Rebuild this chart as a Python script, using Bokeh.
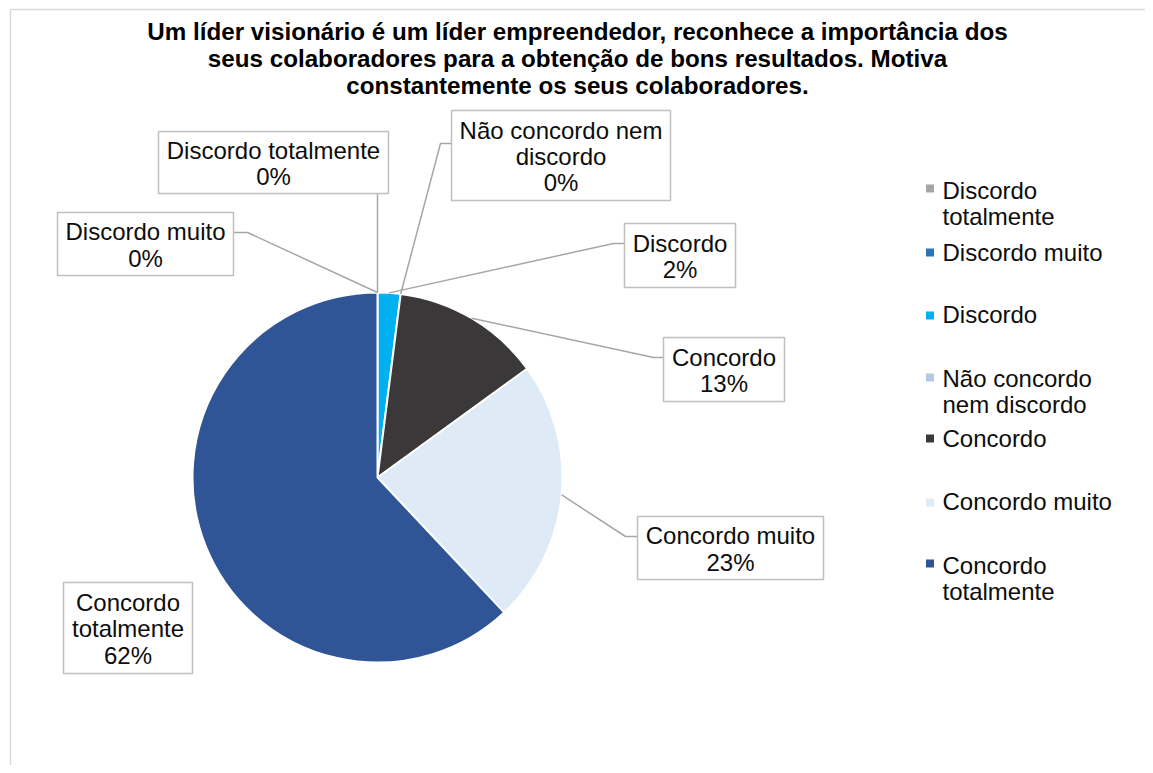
import numpy as np
from bokeh.plotting import figure
from bokeh.models import Range1d
from bokeh.embed import file_html
from bokeh.resources import INLINE
from bokeh.core.properties import value

# ---------------- data ----------------
categories = ["Discordo totalmente", "Discordo muito", "Discordo",
              "Não concordo nem discordo", "Concordo", "Concordo muito",
              "Concordo totalmente"]
values = [0, 0, 2, 0, 13, 23, 62]
colors = ["#A5A5A5", "#2E75B6", "#00B0F0", "#B4C7E7", "#3A3838", "#DEEBF7", "#2F5597"]
label_names = ["Discordo totalmente", "Discordo muito", "Discordo",
               "Não concordo nem\ndiscordo", "Concordo", "Concordo muito",
               "Concordo\ntotalmente"]
legend_names = ["Discordo\ntotalmente", "Discordo muito", "Discordo",
                "Não concordo\nnem discordo", "Concordo", "Concordo muito",
                "Concordo\ntotalmente"]
title = ("Um líder visionário é um líder empreendedor, reconhece a importância dos\n"
         "seus colaboradores para a obtenção de bons resultados. Motiva\n"
         "constantemente os seus colaboradores.")

# ---------------- layout (page pixels) ----------------
W, H = 1145, 765
OFF = 0
def X(px):
    return px - OFF
def Y(py):
    return H - (py - OFF)

FONT = value("Liberation Sans")
CX, CY, R = 377, 477, 185
# label boxes: left, top, right, bottom
boxes = [(158, 131, 388, 193), (57, 212, 233, 275), (624, 223, 735, 287),
         (451, 110, 670, 200), (663, 337, 784, 401), (637, 516, 823, 579),
         (63, 582, 192, 673)]
# leader start and elbow (None = no leader / straight)
leader_start = [(377, 193), (233, 232), (624, 243), (451, 143), (663, 357), (637, 536), None]
leader_elbow = [None, (247, 232), (613, 243), (440, 143), (653, 357), (625, 536), None]
legend_line_y = [190, 252, 314, 378, 438, 501, 565]
legend_marker_y = [188, 252, 315, 377, 438, 502, 563]
LINE_PX = 26

p = figure(width=W, height=H, x_range=Range1d(0, W), y_range=Range1d(0, H),
           output_backend="svg", toolbar_location=None, min_border=0)
p.axis.visible = False
p.grid.visible = False
p.outline_line_color = None
p.background_fill_color = "white"
p.border_fill_color = "white"

# chart frame (only left/top visible in reference)
p.quad(left=[X(10)], right=[W + 50], top=[Y(9)], bottom=[-50],
       fill_color=None, line_color="#D9D9D9", line_width=1.5)

# title
p.text(x=[X(577)], y=[Y(57.5)], text=[title], text_align="center", text_baseline="middle",
       text_font=FONT, text_font_size="24.2px", text_font_style="bold",
       text_line_height=1.0, text_color="#000000")

# pie
vals = np.array(values, dtype=float)
cum = np.concatenate([[0], np.cumsum(vals)]) / vals.sum()
starts = np.pi / 2 - 2 * np.pi * cum[:-1]
ends = np.pi / 2 - 2 * np.pi * cum[1:]
idx = [i for i, v in enumerate(values) if v > 0]
p.wedge(x=[X(CX)] * len(idx), y=[Y(CY)] * len(idx), radius=R,
        start_angle=[starts[i] for i in idx], end_angle=[ends[i] for i in idx],
        direction="clock", fill_color=[colors[i] for i in idx],
        line_color="white", line_width=2)

# leader lines
xs, ys = [], []
for i, v in enumerate(values):
    if leader_start[i] is None:
        continue
    mid = (cum[i] + cum[i + 1]) / 2 * 2 * np.pi
    px = CX + R * np.sin(mid)
    py = CY - R * np.cos(mid)
    pts = [leader_start[i]]
    if leader_elbow[i] is not None:
        pts.append(leader_elbow[i])
    pts.append((px, py))
    xs.append([X(a) for a, b in pts])
    ys.append([Y(b) for a, b in pts])
p.multi_line(xs=xs, ys=ys, line_color="#A6A6A6", line_width=1.5)

# label boxes
p.quad(left=[X(b[0]) for b in boxes], right=[X(b[2]) for b in boxes],
       top=[Y(b[1]) for b in boxes], bottom=[Y(b[3]) for b in boxes],
       fill_color="white", line_color="#BFBFBF", line_width=1.5)
lab_text = [f"{n}\n{v}%" for n, v in zip(label_names, values)]
p.text(x=[X((b[0] + b[2]) / 2) for b in boxes], y=[Y((b[1] + b[3]) / 2 + 1) for b in boxes],
       text=lab_text, text_align="center", text_baseline="middle",
       text_font=FONT, text_font_size="24px", text_line_height=0.98, text_color="#0D0D0D")

# legend
p.scatter(x=[X(929.5)] * 7, y=[Y(v) for v in legend_marker_y], marker="square",
          size=8, fill_color=colors, line_color=None)
leg_y = []
for n, y0 in zip(legend_names, legend_line_y):
    nl = n.count("\n")
    leg_y.append(Y(y0 + nl * LINE_PX / 2))
p.text(x=[X(942)] * 7, y=leg_y, text=legend_names, text_align="left",
       text_baseline="middle", text_font=FONT, text_font_size="24px",
       text_line_height=0.95, text_color="#0D0D0D")

open("out.html", "w").write(file_html(p, INLINE))
